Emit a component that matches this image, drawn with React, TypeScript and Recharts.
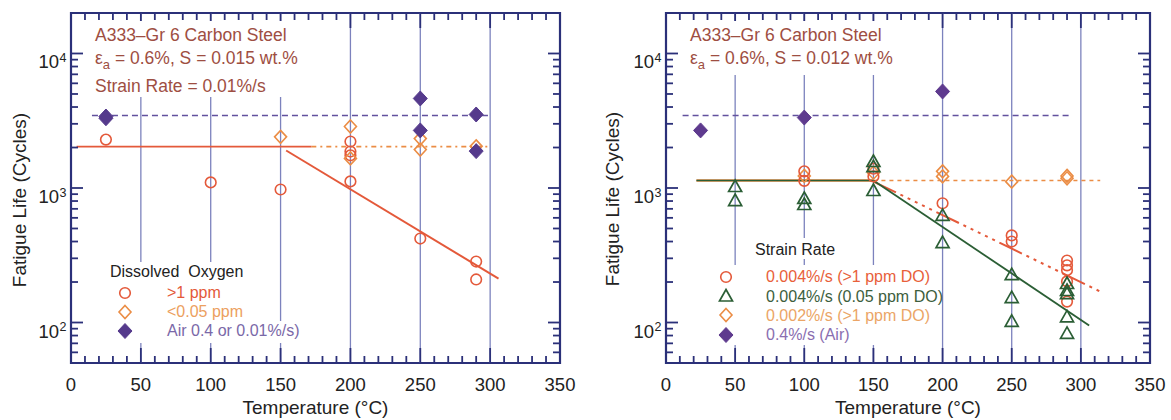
import React from "react";
import { ScatterChart, Scatter, XAxis, YAxis, ReferenceLine, ReferenceArea } from "recharts";

const FONT = '"Liberation Sans", Arial, Helvetica, sans-serif';
const NAVY = "#2b3079";
const GRID = "#7c82bd";
const RED = "#e4593a";
const ORANGE = "#eb8d45";
const PURPLE = "#553a8c";
const DASH_PURPLE = "#62519e";
const GREEN = "#2b5e35";
const TITLE = "#9e4e42";
const INK = "#222";

// axes
const xLabels = [0, 50, 100, 150, 200, 250, 300, 350];
const xGrid = [50, 100, 150, 200, 250, 300];
const decades = [10, 100, 1000, 10000];
const X_DOMAIN = [0, 350];
const Y_DOMAIN = [50, 20000];

// left panel (S = 0.015 wt.%)
const leftHiDoT = [25, 100, 150, 200, 200, 200, 200, 250, 290, 290];
const leftHiDoN = [2290, 1100, 975, 2217, 1867, 1750, 1120, 421, 284, 209];
const leftLoDoT = [150, 200, 200, 250, 250, 290];
const leftLoDoN = [2400, 2865, 1660, 2330, 1930, 2040];
const leftAirT = [25, 25, 250, 250, 290, 290];
const leftAirN = [3400, 3300, 4630, 2680, 3520, 1880];

// left panel fit lines [t0, n0, t1, n1]
const leftFlatHi = [4, 2030, 172, 2030];
const leftFlatLo = [172, 2030, 300, 2030];
const leftSlopeHi = [154, 1900, 306, 212];
const leftAirLine = [15, 3460, 300, 3460];

// right panel (S = 0.012 wt.%)
const rightHiDoT = [100, 100, 150, 150, 200, 250, 250, 290, 290, 290, 290, 290];
const rightHiDoN = [1330, 1130, 1390, 1220, 770, 444, 400, 289, 266, 245, 202, 143];
const rightLoDoT = [50, 50, 100, 100, 150, 150, 150, 200, 200, 250, 250, 250, 290, 290, 290, 290, 290];
const rightLoDoN = [1026, 807, 836, 754, 1574, 1440, 958, 625, 393, 227, 153, 102, 195, 173, 164, 110, 83];
const rightSlowT = [100, 150, 200, 200, 250, 290, 290];
const rightSlowN = [1230, 1300, 1330, 1220, 1115, 1230, 1180];
const rightAirT = [25, 100, 200];
const rightAirN = [2680, 3340, 5220];

const rightFlat = [22, 1137, 150, 1137];
const rightSlopeLo = [150, 1137, 306, 95];
const rightSlopeHi = [150, 1117, 314, 170];
const rightSlowLine = [150, 1137, 314, 1137];
const rightAirLine = [12, 3460, 292, 3460];

const zip = (t: number[], n: number[]) => t.map((v, i) => ({ t: v, n: n[i] }));

const xTicks: number[] = [];
for (let v = X_DOMAIN[0]; v <= X_DOMAIN[1]; v += 10) xTicks.push(v);
const yTicks: number[] = [];
decades.forEach((d) => {
  for (let m = 1; m <= 9; m++) {
    const v = d * m;
    if (v >= Y_DOMAIN[0] && v <= Y_DOMAIN[1]) yTicks.push(v);
  }
});

const TOP = 13;
const BOTTOM = 363;
const PLOT_LEFT = 71;

function XTick(props: any) {
  const { x, payload } = props;
  const v = payload.value;
  const major = xLabels.includes(v);
  const len = major ? 15 : 7;
  return (
    <g>
      <line x1={x} x2={x} y1={BOTTOM} y2={BOTTOM - len} stroke={NAVY} strokeWidth={1.8} />
      <line x1={x} x2={x} y1={TOP} y2={TOP + len} stroke={NAVY} strokeWidth={1.8} />
      {major && (
        <text x={x} y={BOTTOM + 28} textAnchor="middle" fontSize={18.5} fill={INK} fontFamily={FONT}>
          {v}
        </text>
      )}
    </g>
  );
}

function YTick(props: any) {
  const { y, payload, plotRight } = props;
  const v = payload.value;
  const lg = Math.log10(v);
  const exp = Math.round(lg);
  const major = Math.abs(lg - exp) < 1e-6;
  const len = major ? 12 : 7;
  return (
    <g>
      <line x1={PLOT_LEFT} x2={PLOT_LEFT + len} y1={y} y2={y} stroke={NAVY} strokeWidth={1.8} />
      <line x1={plotRight} x2={plotRight - len} y1={y} y2={y} stroke={NAVY} strokeWidth={1.8} />
      {major && exp >= 2 && (
        <g fontFamily={FONT} fill={INK}>
          <text x={PLOT_LEFT - 12} y={y + 15} textAnchor="end" fontSize={18.5}>
            10
          </text>
          <text x={PLOT_LEFT - 11.5} y={y + 8.5} textAnchor="start" fontSize={12.5}>
            {exp}
          </text>
        </g>
      )}
    </g>
  );
}

const circle = (color: string) => (p: any) =>
  <circle cx={p.cx} cy={p.cy} r={5.3} fill="none" stroke={color} strokeWidth={1.6} />;
const diamond = (color: string) => (p: any) =>
  (
    <polygon
      points={`${p.cx},${p.cy - 6.5} ${p.cx + 6},${p.cy} ${p.cx},${p.cy + 6.5} ${p.cx - 6},${p.cy}`}
      fill="none"
      stroke={color}
      strokeWidth={1.6}
    />
  );
const solidDiamond = (color: string) => (p: any) =>
  (
    <polygon
      points={`${p.cx},${p.cy - 7.5} ${p.cx + 7},${p.cy} ${p.cx},${p.cy + 7.5} ${p.cx - 7},${p.cy}`}
      fill={color}
      stroke={color}
      strokeWidth={1}
    />
  );
const triangle = (color: string) => (p: any) =>
  (
    <polygon
      points={`${p.cx},${p.cy - 6.5} ${p.cx + 6.5},${p.cy + 5} ${p.cx - 6.5},${p.cy + 5}`}
      fill="none"
      stroke={color}
      strokeWidth={1.7}
    />
  );

function seg(s: number[], stroke: string, width: number, dash?: string, key?: string) {
  return (
    <ReferenceLine
      key={key}
      segment={[
        { x: s[0], y: s[1] },
        { x: s[2], y: s[3] },
      ]}
      stroke={stroke}
      strokeWidth={width}
      strokeDasharray={dash}
      ifOverflow="visible"
    />
  );
}

function axes(plotRight: number) {
  return [
    <XAxis
      key="x"
      type="number"
      dataKey="t"
      domain={X_DOMAIN}
      ticks={xTicks}
      interval={0}
      allowDataOverflow
      axisLine={false}
      tickLine={false}
      tickSize={0}
      tickMargin={0}
      height={57}
      tick={(p: any) => <XTick {...p} />}
    />,
    <YAxis
      key="y"
      type="number"
      dataKey="n"
      scale="log"
      domain={Y_DOMAIN}
      ticks={yTicks}
      interval={0}
      allowDataOverflow
      axisLine={false}
      tickLine={false}
      tickSize={0}
      tickMargin={0}
      width={PLOT_LEFT}
      tick={(p: any) => <YTick {...p} plotRight={plotRight} />}
    />,
    ...xGrid.map((g) => <ReferenceLine key={"g" + g} x={g} stroke={GRID} strokeWidth={1.3} />),
  ];
}

function frame() {
  return (
    <ReferenceArea
      x1={X_DOMAIN[0]}
      x2={X_DOMAIN[1]}
      y1={Y_DOMAIN[0]}
      y2={Y_DOMAIN[1]}
      fill="none"
      fillOpacity={0}
      stroke={NAVY}
      strokeWidth={2.2}
      ifOverflow="visible"
    />
  );
}

function Box({ x, y, w, h }: any) {
  return <div style={{ position: "absolute", left: x, top: y, width: w, height: h, background: "#fff" }} />;
}

function Txt({ x, cy, size, color, children }: any) {
  return (
    <div
      style={{
        position: "absolute",
        left: x,
        top: cy - size * 0.6,
        fontSize: size,
        lineHeight: `${size * 1.2}px`,
        color,
        whiteSpace: "pre",
      }}
    >
      {children}
    </div>
  );
}

function Mark({ x, cy, kind, color }: any) {
  const p = { cx: 9, cy: 9 };
  const el =
    kind === "circle"
      ? circle(color)(p)
      : kind === "diamond"
      ? diamond(color)(p)
      : kind === "triangle"
      ? triangle(color)(p)
      : solidDiamond(color)(p);
  return (
    <svg width={18} height={18} style={{ position: "absolute", left: x - 9, top: cy - 9 }}>
      {el}
    </svg>
  );
}

function Strain({ x, cy, s }: any) {
  return (
    <Txt x={x} cy={cy} size={17.5} color={TITLE}>
      ε<span style={{ fontSize: 13, position: "relative", top: 5 }}>a</span>
      {` = 0.6%, S = ${s} wt.%`}
    </Txt>
  );
}

export default function App() {
  return (
    <div
      style={{
        position: "absolute",
        left: 0,
        top: 0,
        width: 1171,
        height: 420,
        background: "#fff",
        fontFamily: FONT,
        overflow: "hidden",
      }}
    >
      <div style={{ position: "absolute", left: 0, top: 0 }}>
        <ScatterChart width={590} height={420} margin={{ top: TOP, right: 30, bottom: 0, left: 0 }}>
          {axes(560)}
          {seg(leftAirLine, DASH_PURPLE, 1.5, "6 4", "a")}
          {seg(leftFlatLo, ORANGE, 1.6, "5 4 2 4", "b")}
          {seg(leftFlatHi, RED, 1.9, undefined, "c")}
          {seg(leftSlopeHi, RED, 2, undefined, "d")}
          <Scatter data={zip(leftHiDoT, leftHiDoN)} shape={circle(RED)} isAnimationActive={false} />
          <Scatter data={zip(leftLoDoT, leftLoDoN)} shape={diamond(ORANGE)} isAnimationActive={false} />
          <Scatter data={zip(leftAirT, leftAirN)} shape={solidDiamond(PURPLE)} isAnimationActive={false} />
          {frame()}
        </ScatterChart>
      </div>
      <div style={{ position: "absolute", left: 595, top: 0 }}>
        <ScatterChart width={576} height={420} margin={{ top: TOP, right: 21, bottom: 0, left: 0 }}>
          {axes(555)}
          {seg(rightAirLine, DASH_PURPLE, 1.5, "6 4", "a")}
          {seg(rightSlowLine, ORANGE, 1.6, "4 4", "b")}
          {seg(rightFlat, ORANGE, 2.6, undefined, "c")}
          {seg(rightFlat, GREEN, 1.4, undefined, "d")}
          {seg(rightSlopeHi, RED, 2, "25 5 3 5 3 5 3 5 3 5 3 5", "e")}
          {seg(rightSlopeLo, GREEN, 1.8, undefined, "f")}
          <Scatter data={zip(rightSlowT, rightSlowN)} shape={diamond(ORANGE)} isAnimationActive={false} />
          <Scatter data={zip(rightHiDoT, rightHiDoN)} shape={circle(RED)} isAnimationActive={false} />
          <Scatter data={zip(rightLoDoT, rightLoDoN)} shape={triangle(GREEN)} isAnimationActive={false} />
          <Scatter data={zip(rightAirT, rightAirN)} shape={solidDiamond("#5e3a8e")} isAnimationActive={false} />
          {frame()}
        </ScatterChart>
      </div>

      {/* text blocks with white backgrounds that hide the grid lines */}
      <Box x={88} y={21} w={215} h={76} />
      <Box x={683} y={21} w={222} h={54} />
      <Box x={100} y={262} w={155} h={81} />
      <Box x={100} y={321} w={202} h={22} />
      <Box x={748} y={238} w={92} h={21} />
      <Box x={712} y={265} w={227} h={80} />

      <Txt x={95} cy={35} size={17.5} color={TITLE}>A333–Gr 6 Carbon Steel</Txt>
      <Strain x={95} cy={58} s="0.015" />
      <Txt x={95} cy={86} size={17.5} color={TITLE}>Strain Rate = 0.01%/s</Txt>

      <Txt x={690} cy={35} size={17.5} color={TITLE}>A333–Gr 6 Carbon Steel</Txt>
      <Strain x={690} cy={58} s="0.012" />

      <Txt x={110} cy={272} size={16} color={INK}>Dissolved  Oxygen</Txt>
      <Mark x={125} cy={293} kind="circle" color={RED} />
      <Txt x={167} cy={293} size={16} color={RED}>&gt;1 ppm</Txt>
      <Mark x={125} cy={312} kind="diamond" color={ORANGE} />
      <Txt x={167} cy={312} size={16} color="#eca060">&lt;0.05 ppm</Txt>
      <Mark x={125} cy={331} kind="air" color={PURPLE} />
      <Txt x={167} cy={331} size={16} color="#7a68a8">Air 0.4 or 0.01%/s)</Txt>

      <Txt x={755} cy={250} size={16} color={INK}>Strain Rate</Txt>
      <Mark x={726} cy={277} kind="circle" color={RED} />
      <Txt x={766} cy={277} size={16} color="#e8603a">0.004%/s (&gt;1 ppm DO)</Txt>
      <Mark x={726} cy={296} kind="triangle" color={GREEN} />
      <Txt x={766} cy={297} size={16} color="#3d5e3d">0.004%/s (0.05 ppm DO)</Txt>
      <Mark x={726} cy={315} kind="diamond" color={ORANGE} />
      <Txt x={766} cy={316} size={16} color="#eba566">0.002%/s (&gt;1 ppm DO)</Txt>
      <Mark x={726} cy={335} kind="air" color="#5e3a8e" />
      <Txt x={766} cy={335} size={16} color="#8a6eb0">0.4%/s (Air)</Txt>

      {/* axis titles */}
      <Txt x={71} cy={408} size={19} color={INK}>
        <div style={{ width: 489, textAlign: "center" }}>Temperature (°C)</div>
      </Txt>
      <Txt x={666} cy={408} size={19} color={INK}>
        <div style={{ width: 484, textAlign: "center" }}>Temperature (°C)</div>
      </Txt>
      <div
        style={{
          position: "absolute",
          left: 20 - 110,
          top: 200 - 12,
          width: 220,
          height: 24,
          lineHeight: "24px",
          fontSize: 19,
          color: INK,
          textAlign: "center",
          transform: "rotate(-90deg)",
        }}
      >
        Fatigue Life (Cycles)
      </div>
      <div
        style={{
          position: "absolute",
          left: 613 - 110,
          top: 199 - 12,
          width: 220,
          height: 24,
          lineHeight: "24px",
          fontSize: 19,
          color: INK,
          textAlign: "center",
          transform: "rotate(-90deg)",
        }}
      >
        Fatigue Life (Cycles)
      </div>
    </div>
  );
}
